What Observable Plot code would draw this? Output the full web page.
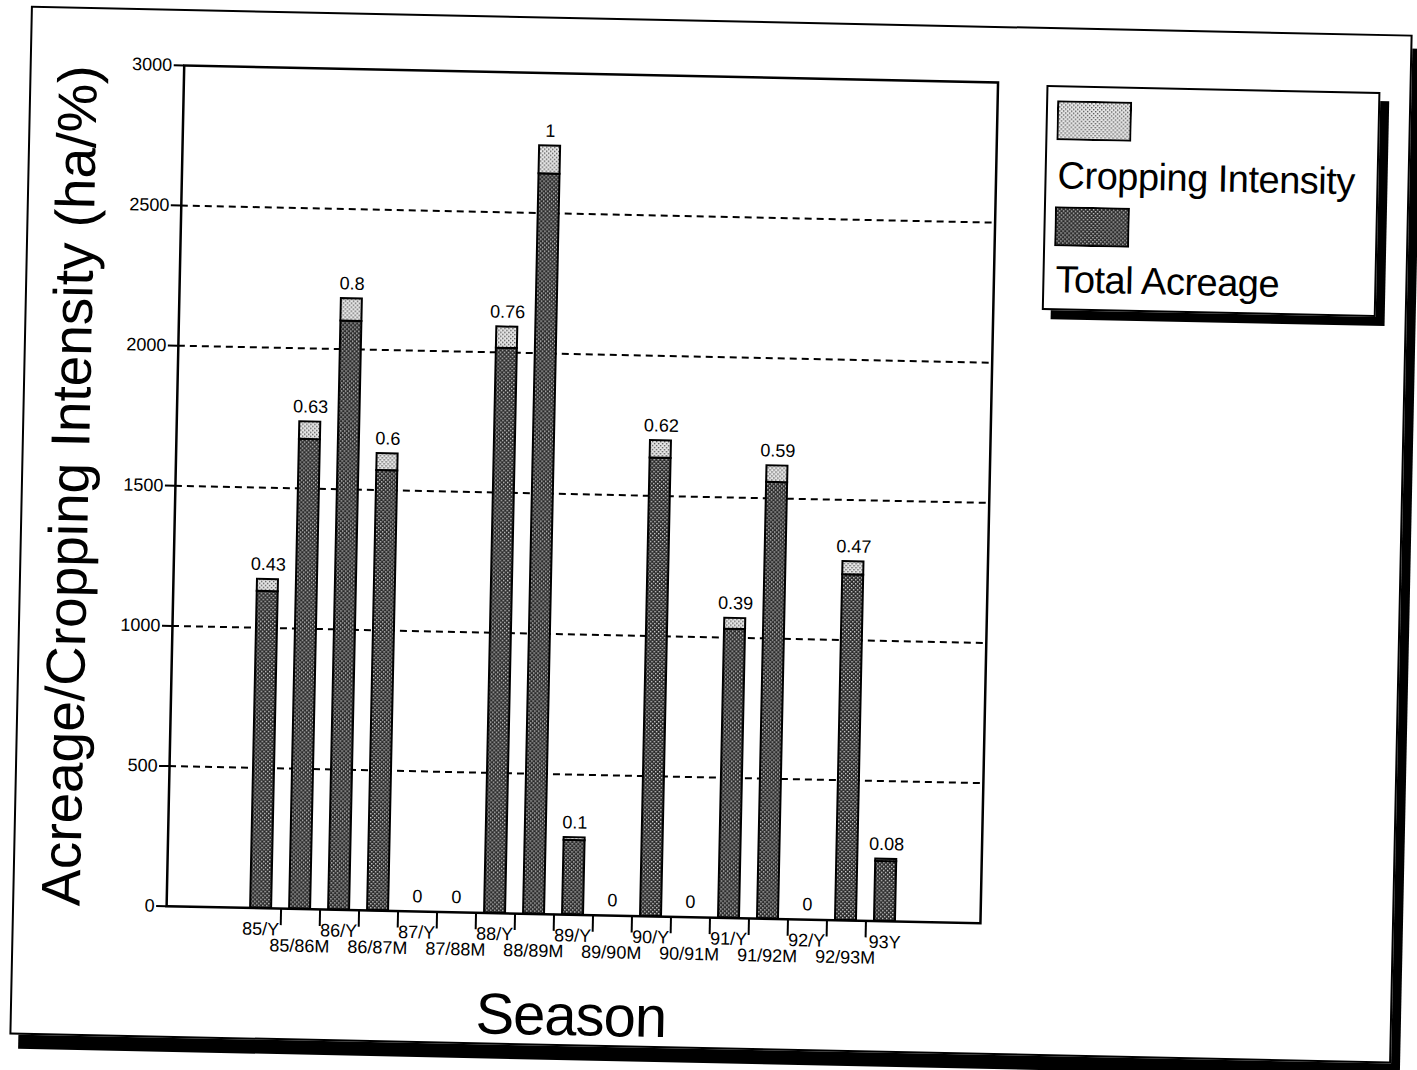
<!DOCTYPE html>
<html>
<head>
<meta charset="utf-8">
<script src="https://cdn.jsdelivr.net/npm/d3@7"></script>
<script src="https://cdn.jsdelivr.net/npm/@observablehq/plot@0.6"></script>
<style>
  html, body { margin: 0; padding: 0; background: #fff; }
  body { width: 1417px; height: 1070px; overflow: hidden; font-family: "Liberation Sans", Arial, Helvetica, sans-serif; color: #000; }
  #page { position: absolute; left: 0; top: 0; width: 1417px; height: 1070px; transform: rotate(1.2deg); transform-origin: 708px 535px; }
  #sheet { position: absolute; left: 20px; top: 20px; width: 1382px; height: 1029px; box-sizing: border-box; border: 2px solid #000; box-shadow: 9px 14px 0 #000; background: #fff; }
  #chart { position: absolute; left: 0; top: 0; }
  .title { position: absolute; line-height: 1; white-space: nowrap; }
  #ytitle { left: 69px; top: 499px; transform: translate(-50%, -50%) rotate(-90deg); font-size: 55px; }
  #xtitle { left: 581px; top: 1018px; transform: translate(-50%, -50%); font-size: 58px; letter-spacing: -1px; }
  #legend { position: absolute; left: 1037px; top: 78px; width: 334px; height: 225px; box-sizing: border-box; border: 2px solid #000; box-shadow: 9px 9px 0 #000; background: #fff; }
  #legend svg { position: absolute; }
  #legend .lab { position: absolute; left: 11px; font-size: 38px; line-height: 38px; letter-spacing: -0.5px; white-space: nowrap; }
</style>
</head>
<body>
<svg width="0" height="0" style="position:absolute">
  <defs>
    <pattern id="darkDots" width="4" height="4" patternUnits="userSpaceOnUse">
      <rect width="4" height="4" fill="#2a2a2a"/>
      <rect x="0" y="0" width="1.4" height="1.4" fill="#d0d0d0"/>
      <rect x="2" y="2" width="1.4" height="1.4" fill="#d0d0d0"/>
    </pattern>
    <pattern id="lightDots" width="4" height="4" patternUnits="userSpaceOnUse">
      <rect width="4" height="4" fill="#e8e8e8"/>
      <rect x="0" y="0" width="1.4" height="1.4" fill="#555"/>
      <rect x="2" y="2" width="1.4" height="1.4" fill="#555"/>
    </pattern>
  </defs>
</svg>
<div id="page">
  <div id="sheet"></div>
  <div id="chart"></div>
  <div id="ytitle" class="title">Acreage/Cropping Intensity (ha/%)</div>
  <div id="xtitle" class="title">Season</div>
  <div id="legend">
    <svg style="left:9px;top:13px" width="75" height="40"><rect x="1" y="1" width="73" height="38" fill="url(#lightDots)" stroke="#000" stroke-width="2"/></svg>
    <div class="lab" style="top:69px">Cropping Intensity</div>
    <svg style="left:9px;top:119px" width="75" height="40"><rect x="1" y="1" width="73" height="38" fill="url(#darkDots)" stroke="#000" stroke-width="2"/></svg>
    <div class="lab" style="top:173px">Total Acreage</div>
  </div>
</div>
<script>
// ---- data ----
const seasons = ["85/Y","85/86M","86/Y","86/87M","87/Y","87/88M","88/Y","88/89M","89/Y","89/90M","90/Y","90/91M","91/Y","91/92M","92/Y","92/93M","93Y"];
const totalAcreage = [1130, 1675, 2100, 1570, 0, 0, 2015, 2640, 265, 0, 1635, 0, 1030, 1557, 0, 1233, 213];
const croppingIntensity = [0.43, 0.63, 0.8, 0.6, 0, 0, 0.76, 1, 0.1, 0, 0.62, 0, 0.39, 0.59, 0, 0.47, 0.08];
const yTicks = [0, 500, 1000, 1500, 2000, 2500, 3000];

const rows = seasons.map((s, i) => ({
  season: s,
  acreage: totalAcreage[i],
  intensity: croppingIntensity[i],
  pct: croppingIntensity[i] * 100,
  top: totalAcreage[i] + croppingIntensity[i] * 100
}));

const rowY = seasons.filter((d, i) => i % 2 === 0);
const rowM = seasons.filter((d, i) => i % 2 === 1);

const chart = Plot.plot({
  width: 1417,
  height: 1000,
  marginLeft: 174,
  marginRight: 429,
  marginTop: 76,
  marginBottom: 83,
  style: { fontFamily: "Liberation Sans, Arial, Helvetica, sans-serif", color: "#000", background: "transparent", overflow: "visible" },
  x: { type: "band", domain: seasons, range: [241.2, 920.4], paddingInner: 0.45, paddingOuter: 0.225 },
  y: { domain: [0, 3000] },
  marks: [
    Plot.gridY(yTicks.slice(1, -1), { stroke: "#000", strokeOpacity: 1, strokeWidth: 2, strokeDasharray: "7,5" }),
    Plot.barY(rows.filter(d => d.acreage > 0), { x: "season", y1: 0, y2: "acreage", fill: "url(#darkDots)", stroke: "#000", strokeWidth: 2 }),
    Plot.barY(rows.filter(d => d.acreage > 0 && d.pct > 0), { x: "season", y1: "acreage", y2: "top", fill: "url(#lightDots)", stroke: "#000", strokeWidth: 2 }),
    Plot.text(rows, { x: "season", y: "top", text: d => String(d.intensity), dy: -15, fontSize: 18, letterSpacing: 0.4, fill: "#000" }),
    Plot.frame({ stroke: "#000", strokeWidth: 2.5 }),
    Plot.axisY(yTicks, { tickSize: 10, tickPadding: 2, fontSize: 18, strokeWidth: 2, tickFormat: d => String(d), label: null }),
    Plot.axisX(seasons.slice(0, 16), { tickSize: 17, dx: 20, fill: "none", stroke: "#000", strokeWidth: 2, label: null }),
    Plot.axisX(rowY, { tickSize: 0, tickPadding: 14, fontSize: 18, label: null }),
    Plot.axisX(rowM, { tickSize: 0, tickPadding: 30, fontSize: 18, label: null })
  ]
});
document.getElementById("chart").appendChild(chart);
</script>
</body>
</html>
